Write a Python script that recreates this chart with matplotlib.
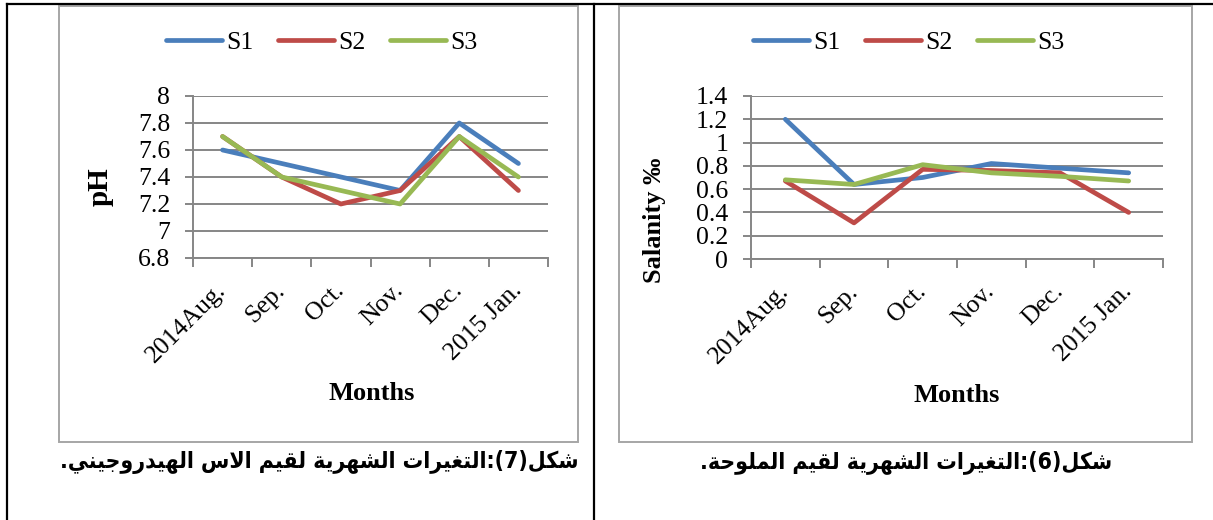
import matplotlib
matplotlib.use("Agg")
import matplotlib.pyplot as plt
from matplotlib.lines import Line2D
from matplotlib.patches import Rectangle

W, H = 1213, 520

months = ["2014Aug.", "Sep.", "Oct.", "Nov.", "Dec.", "2015 Jan."]
series_names = ["S1", "S2", "S3"]
colors = ["#4A7EBB", "#BE4B48", "#98B954"]

ph_s1 = [7.6, 7.5, 7.4, 7.3, 7.8, 7.5]
ph_s2 = [7.7, 7.4, 7.2, 7.3, 7.7, 7.3]
ph_s3 = [7.7, 7.4, 7.3, 7.2, 7.7, 7.4]
ph_ticks = [6.8, 7, 7.2, 7.4, 7.6, 7.8, 8]
ph_labels = ["6.8", "7", "7.2", "7.4", "7.6", "7.8", "8"]

sal_s1 = [1.2, 0.64, 0.70, 0.82, 0.78, 0.74]
sal_s2 = [0.67, 0.31, 0.77, 0.76, 0.74, 0.40]
sal_s3 = [0.68, 0.64, 0.81, 0.74, 0.71, 0.67]
sal_ticks = [0, 0.2, 0.4, 0.6, 0.8, 1.0, 1.2, 1.4]
sal_labels = ["0", "0.2", "0.4", "0.6", "0.8", "1", "1.2", "1.4"]

caption_ph = "شكل(7):التغيرات الشهرية لقيم الاس الهيدروجيني."
caption_sal = "شكل(6):التغيرات الشهرية لقيم الملوحة."

GRID = "#868686"
SERIF = "Liberation Serif"
FS = 18.5

# contextual forms (isolated, final, initial, medial) from Arabic Presentation Forms-B
FORMS = {
    "ا": (0xFE8D, 0xFE8E, None, None),
    "ة": (0xFE93, 0xFE94, None, None),
    "ت": (0xFE95, 0xFE96, 0xFE97, 0xFE98),
    "ج": (0xFE9D, 0xFE9E, 0xFE9F, 0xFEA0),
    "ح": (0xFEA1, 0xFEA2, 0xFEA3, 0xFEA4),
    "د": (0xFEA9, 0xFEAA, None, None),
    "ر": (0xFEAD, 0xFEAE, None, None),
    "س": (0xFEB1, 0xFEB2, 0xFEB3, 0xFEB4),
    "ش": (0xFEB5, 0xFEB6, 0xFEB7, 0xFEB8),
    "غ": (0xFECD, 0xFECE, 0xFECF, 0xFED0),
    "ق": (0xFED5, 0xFED6, 0xFED7, 0xFED8),
    "ك": (0xFED9, 0xFEDA, 0xFEDB, 0xFEDC),
    "ل": (0xFEDD, 0xFEDE, 0xFEDF, 0xFEE0),
    "م": (0xFEE1, 0xFEE2, 0xFEE3, 0xFEE4),
    "ن": (0xFEE5, 0xFEE6, 0xFEE7, 0xFEE8),
    "ه": (0xFEE9, 0xFEEA, 0xFEEB, 0xFEEC),
    "و": (0xFEED, 0xFEEE, None, None),
    "ي": (0xFEF1, 0xFEF2, 0xFEF3, 0xFEF4),
    "لا": (0xFEFB, 0xFEFC, None, None),
}


def shape_arabic(text):
    # join letters, then lay out right to left (matplotlib has no bidi support)
    tokens = []
    i = 0
    while i < len(text):
        if text[i] == "ل" and i + 1 < len(text) and text[i + 1] == "ا":
            tokens.append("لا")
            i += 2
        else:
            tokens.append(text[i])
            i += 1
    out = []
    for k, t in enumerate(tokens):
        if t not in FORMS:
            out.append(t)
            continue
        prev = tokens[k - 1] if k > 0 else None
        nxt = tokens[k + 1] if k + 1 < len(tokens) else None
        join_prev = prev in FORMS and FORMS[prev][2] is not None
        join_next = FORMS[t][2] is not None and nxt in FORMS
        if join_prev and join_next:
            idx = 3
        elif join_prev:
            idx = 1
        elif join_next:
            idx = 2
        else:
            idx = 0
        out.append(chr(FORMS[t][idx]))
    swap = {"(": ")", ")": "("}
    return "".join(swap.get(c, c) for c in reversed(out))


def px(x, y):
    return x / W, 1 - y / H


def axes_box(left, top, right, bottom):
    return [left / W, 1 - bottom / H, (right - left) / W, (bottom - top) / H]


def draw_panel(fig, box, data, ticks, labels, ylim):
    ax = fig.add_axes(box)
    x = list(range(len(months)))
    for vals, c, name in zip(data, colors, series_names):
        ax.plot(x, vals, color=c, lw=3.4, solid_capstyle="round",
                solid_joinstyle="round", label=name, zorder=3)
    ax.set_xlim(-0.5, len(months) - 0.5)
    ax.set_ylim(*ylim)
    ax.set_yticks(ticks)
    ax.set_yticklabels(labels, fontfamily=SERIF, fontsize=FS)
    ax.grid(axis="y", color=GRID, lw=1.4)
    ax.set_axisbelow(True)
    for s in ["top", "right"]:
        ax.spines[s].set_visible(False)
    for s in ["left", "bottom"]:
        ax.spines[s].set_color(GRID)
        ax.spines[s].set_linewidth(1.4)
    ax.tick_params(axis="y", colors=GRID, length=6, width=1.4, pad=10.5,
                   labelcolor="black")
    # boundary ticks between months, labels centred on each month
    ax.set_xticks([i - 0.5 for i in range(len(months) + 1)])
    ax.set_xticklabels([])
    ax.set_xticks(x, minor=True)
    ax.set_xticklabels(months, minor=True, rotation=45, ha="right",
                       rotation_mode="anchor", fontfamily=SERIF, fontsize=FS)
    ax.tick_params(axis="x", which="major", colors=GRID, length=6.5, width=1.4)
    ax.tick_params(axis="x", which="minor", length=0, pad=21, labelcolor="black")
    for t in ax.get_xticklabels(minor=True):
        t.set_va("center")
    return ax


fig = plt.figure(figsize=(W / 100, H / 100), dpi=100)

# table borders
for xs, ys in [((7, 1213), (4, 4)), ((7, 7), (4, 520)), ((594, 594), (4, 520))]:
    (x0, y0), (x1, y1) = px(xs[0], ys[0]), px(xs[1], ys[1])
    fig.add_artist(Line2D([x0, x1], [y0, y1], transform=fig.transFigure,
                          color="black", lw=1.6))

# chart frames
for left, right in [(59, 578), (619, 1192)]:
    fig.add_artist(Rectangle(px(left, 442), (right - left) / W, 436 / H,
                             transform=fig.transFigure, fill=False,
                             edgecolor="#A6A6A6", lw=1.4))

ax1 = draw_panel(fig, axes_box(193, 96, 548, 258), [ph_s1, ph_s2, ph_s3],
                 ph_ticks, ph_labels, (6.8, 8.0))
ax2 = draw_panel(fig, axes_box(751, 96, 1163, 259), [sal_s1, sal_s2, sal_s3],
                 sal_ticks, sal_labels, (0, 1.4))

handles = [Line2D([], [], color=c, lw=3.4, solid_capstyle="round") for c in colors]
for cx in [321.5, 908.5]:
    fig.legend(handles, series_names, loc="center", bbox_to_anchor=px(cx, 43),
               ncol=3, frameon=False, handlelength=2.2, handletextpad=0.15,
               columnspacing=0.95, prop={"family": SERIF, "size": FS})

lab = {"family": SERIF, "size": 19, "weight": "bold"}
fig.text(*px(100, 187), "pH", rotation=90, ha="center", va="center",
         family=SERIF, size=21, weight="bold")
fig.text(*px(654, 220), "Salanity ‰", rotation=90, ha="center", va="center", **lab)
fig.text(*px(372, 393), "Months", ha="center", va="center", **lab)
fig.text(*px(957, 395), "Months", ha="center", va="center", **lab)

cap = {"family": "DejaVu Sans", "size": 16.5, "weight": "bold", "stretch": "condensed"}
fig.text(*px(579, 462), shape_arabic(caption_ph), ha="right", va="center", **cap)
fig.text(*px(1112, 462), shape_arabic(caption_sal), ha="right", va="center", **cap)

fig.savefig("out.png", dpi=100)
